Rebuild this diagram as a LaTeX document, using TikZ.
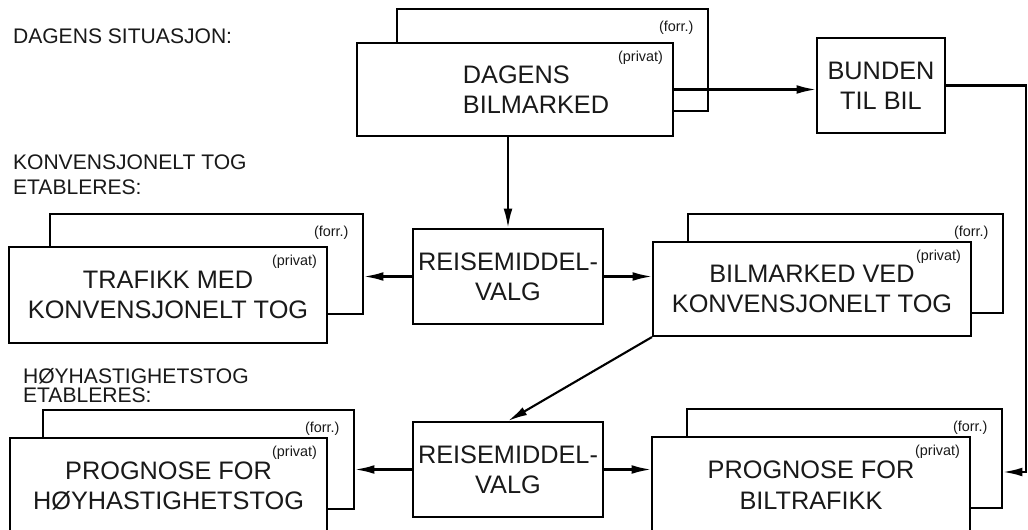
\documentclass[tikz,border=0pt]{standalone}
\usepackage{fontspec}
\setmainfont{Liberation Sans}
\usetikzlibrary{arrows.meta, positioning, calc}

\begin{document}
\begin{tikzpicture}[
    x=0.02cm, y=-0.02cm,
    line width=1.2pt,
    box/.style={rectangle, draw, fill=white, inner sep=0pt, align=center, text=black!90, font=\fontsize{14.4}{17.3}\selectfont},
    back/.style={rectangle, draw, fill=white, inner sep=0pt},
    tag/.style={inner sep=0pt, anchor=east, text=black!90, font=\fontsize{8.2}{9}\selectfont},
    heading/.style={inner sep=0pt, anchor=north west, align=left, text=black!90, font=\fontsize{12}{14.2}\selectfont},
    >={Latex[length=11pt,width=5pt]}
    ]
    \clip (0,0) rectangle (1028,530);
    \fill[white] (0,0) rectangle (1028,530);

    % headings
    \node[heading] (situasjon) at (12,28) {DAGENS SITUASJON:};
    \node[heading] (konvensjonelt) at (12,154) {KONVENSJONELT TOG\\ETABLERES:};
    \node[heading, font=\fontsize{12}{10.8}\selectfont] (hoyhastighet) at (22,367) {HØYHASTIGHETSTOG\\ETABLERES:};

    % dagens situasjon
    \node[back, minimum width=6.22cm, minimum height=2.04cm] (dagensB) at (552.5,60) {};
    \node[box, align=left, minimum width=6.32cm, minimum height=1.86cm] (dagensF) at (515,89.5) {\hspace*{0.84cm}DAGENS\\\hspace*{0.84cm}BILMARKED};
    \node[box, minimum width=2.56cm, minimum height=1.9cm] (bunden) at (881,85.5) {BUNDEN\\TIL BIL};

    % konvensjonelt tog
    \node[back, minimum width=6.26cm, minimum height=2cm] (trafikkB) at (206.5,264) {};
    \node[box, minimum width=6.36cm, minimum height=1.92cm] (trafikkF) at (168,295) {TRAFIKK MED\\KONVENSJONELT TOG};
    \node[box, minimum width=3.8cm, minimum height=1.9cm] (valg1) at (508,276.5) {REISEMIDDEL-\\VALG};
    \node[back, minimum width=6.3cm, minimum height=1.98cm] (bilmarkedB) at (845.5,263.5) {};
    \node[box, minimum width=6.36cm, minimum height=1.88cm] (bilmarkedF) at (812,289) {BILMARKED VED\\KONVENSJONELT TOG};

    % hoyhastighetstog
    \node[back, minimum width=6.22cm, minimum height=1.98cm] (hoyB) at (198.5,459.5) {};
    \node[box, minimum width=6.34cm, minimum height=1.92cm] (hoyF) at (168.5,486) {PROGNOSE FOR\\HØYHASTIGHETSTOG};
    \node[box, minimum width=3.8cm, minimum height=1.9cm] (valg2) at (508,469.5) {REISEMIDDEL-\\VALG};
    \node[back, minimum width=6.3cm, minimum height=1.98cm] (biltrafikkB) at (844.5,458.5) {};
    \node[box, minimum width=6.36cm, minimum height=1.92cm] (biltrafikkF) at (811,485) {PROGNOSE FOR\\BILTRAFIKK};

    % tags
    \foreach \b in {dagens, trafikk, bilmarked, hoy, biltrafikk} {
        \node[tag] (\b Forr) at ([xshift=-0.29cm, yshift=-0.4cm]\b B.north east) {(forr.)};
        \node[tag] (\b Priv) at ([xshift=-0.2cm, yshift=-0.31cm]\b F.north east) {(privat)};
    }

    % connectors
    \coordinate (kant) at (1026,472);
    \draw[->] (dagensF.east) -- (dagensF.east -| bunden.west);
    \draw[->] (bunden.east) -| (kant) -- (kant -| biltrafikkB.east);
    \draw[->] (valg1.north |- dagensF.south) -- (valg1.north);
    \draw[->] (valg1.west) -- (valg1.west -| trafikkB.east);
    \draw[->] (valg1.east) -- (valg1.east -| bilmarkedF.west);
    \draw[->] (bilmarkedF.south west) -- (valg2.north);
    \draw[->] (valg2.west) -- (valg2.west -| hoyB.east);
    \draw[->] (valg2.east) -- (valg2.east -| biltrafikkF.west);
\end{tikzpicture}
\end{document}
